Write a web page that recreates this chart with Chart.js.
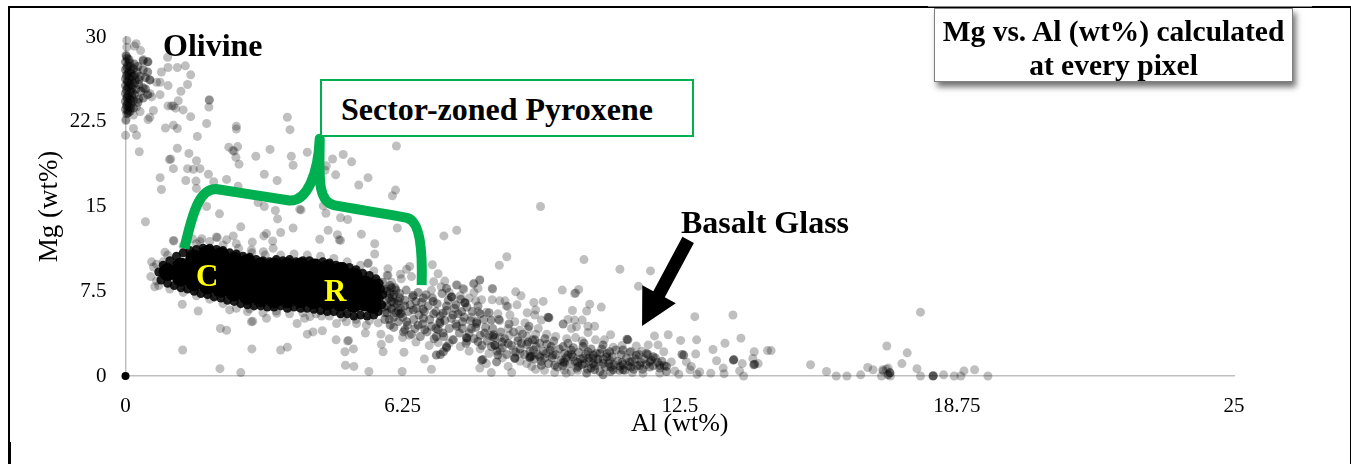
<!DOCTYPE html>
<html>
<head>
<meta charset="utf-8">
<title>Mg vs. Al</title>
<script src="https://cdn.jsdelivr.net/npm/chart.js@4"></script>
<style>
  html, body { margin: 0; padding: 0; background: #fff; overflow: hidden; }
  #wrap { position: relative; width: 1351px; height: 464px; font-family: "Liberation Serif", serif; color: #000; }
  #wrap canvas { position: absolute; left: 0; top: 0; }
  .frame { position: absolute; background: #000; }
  .note { position: absolute; font-weight: bold; white-space: nowrap; line-height: 1; }
  .box-title { position: absolute; left: 934px; top: 8px; width: 359px; height: 74px; box-sizing: border-box; background: #fff;
    border: 1.5px solid #7f7f7f; box-shadow: 3px 5px 6px rgba(0,0,0,0.55); font-weight: bold; font-size: 29.5px; line-height: 34px;
    text-align: center; padding-top: 5px; white-space: nowrap; }
  .box-green { position: absolute; left: 320px; top: 79px; width: 374px; height: 58px; box-sizing: border-box; background: #fff;
    border: 2px solid #00b050; font-weight: bold; font-size: 32px; padding: 12px 0 0 19px; line-height: 32px; white-space: nowrap; }
</style>
</head>
<body>
<div id="wrap">
  <canvas id="chart" width="1351" height="464"></canvas>
  <div class="frame" style="left:8px;top:6px;width:1343px;height:2px"></div>
  <div class="frame" style="left:928px;top:6px;width:384px;height:1px;background:#888"></div>
  <div class="frame" style="left:8px;top:6px;width:1.5px;height:458px"></div>
  <div class="frame" style="left:8px;top:442px;width:2.5px;height:22px"></div>
  <div class="frame" style="left:1349.5px;top:6px;width:1.5px;height:458px"></div>
  <div class="box-green">Sector-zoned Pyroxene</div>
  <div class="box-title">Mg vs. Al (wt%) calculated<br>at every pixel</div>
  <div class="note" style="left:163px;top:29px;font-size:32px">Olivine</div>
  <div class="note" style="left:681px;top:206px;font-size:32px">Basalt Glass</div>
  <div class="note" style="left:196px;top:260px;font-size:31px;color:#ff0">C</div>
  <div class="note" style="left:324px;top:275px;font-size:31px;color:#ff0">R</div>
</div>

<script>
// ============== data (Al wt%, Mg wt%) ==============
const xTicks = [0, 6.25, 12.5, 18.75, 25];
const yTicks = [0, 7.5, 15, 22.5, 30];
const originPoint = [[0, 0]];

// olivine cluster, hugging the Mg axis
const olivinePoints = [
  [0.02,28.3],[0.08,28.0],[0.0,27.8],[0.05,27.5],[0.11,27.4],[0.0,27.1],[0.07,26.9],[0.13,26.8],[0.02,26.6],[0.09,26.4],
  [0.0,26.3],[0.14,26.2],[0.05,26.0],[0.1,25.9],[0.0,25.7],[0.07,25.6],[0.15,25.5],[0.02,25.3],[0.11,25.2],[0.0,25.0],
  [0.06,24.9],[0.14,24.8],[0.03,24.6],[0.1,24.5],[0.0,24.3],[0.06,24.2],[0.13,24.1],[0.02,23.9],[0.08,23.8],[0.0,23.6],
  [0.05,23.5],[0.1,23.4],[0.03,23.2],[0.2,27.6],[0.26,26.9],[0.22,26.2],[0.3,25.8],[0.24,25.4],[0.2,24.9],[0.3,24.5],
  [0.4,27.9],[0.5,27.8],[0.4,27.1],[0.5,26.9],[0.4,25.5],[0.45,25.4],[0.33,26.5],[0.4,24.6],[0.55,26.2],
  [0.04,28.1],[0.1,27.7],[0.03,27.3],[0.12,27.0],[0.05,26.7],[0.15,26.5],[0.04,26.1],[0.12,25.7],[0.04,25.5],[0.16,25.1],
  [0.04,24.7],[0.12,24.4],[0.04,24.0],[0.12,23.7],[0.06,23.3],[0.2,26.6],[0.2,25.9],[0.18,24.4],[0.18,27.2],[0.28,27.4],
  [0.3,26.2],[0.35,25.2],[0.28,24.2],[0.45,26.4],[0.5,24.9],[0.18,23.7]
];

// everything that shows as a single grey dot or a light overlap
const scatterPoints = [
  [0.03,29.7],[0.03,29.1],[0.24,29.4],[0.2,29.2],[0.34,28.8],[0.01,28.4],[0.4,28.0],[0.51,27.8],[0.7,26.0],[0.78,26.0],
  [0.55,26.2],[0.59,24.7],[0.55,25.0],[0.25,23.8],[0.63,23.5],[0.18,23.1],[0.33,23.4],[0.51,22.7],[0.55,22.9],[0.01,22.6],[0.01,22.7],
  [0.18,21.9],[0.0,21.3],[0.25,21.3],[0.31,19.85],[0.95,28.2],[0.96,27.3],[1.17,27.3],[1.35,27.45],[1.47,26.65],
  [0.81,26.9],[0.96,25.7],[1.4,25.8],[1.25,25.2],[0.78,24.9],[1.19,24.35],[0.96,23.9],[1.04,23.9],[1.08,23.9],[1.13,23.7],
  [1.3,23.55],[1.47,22.95],[1.89,24.4],[1.89,24.45],[1.88,23.8],[1.83,22.35],[0.9,21.95],[1.08,22.2],[1.17,21.9],[1.62,21.2],
  [1.17,20.15],[1.43,19.7],[0.99,19.15],[1.02,19.2],[1.6,19.05],[1.08,18.35],[1.4,18.35],[1.53,18.3],[1.68,18.35],[1.87,17.85],
  [0.78,17.55],[1.36,17.3],[1.59,17.25],[0.81,16.5],[1.6,16.6],[1.99,17.2],[2.28,17.4],[2.33,20.25],[2.53,20.3],[2.45,19.9],[2.42,19.95],
  [2.49,19.35],[2.56,18.75],[2.5,22.1],[2.5,21.85],[3.65,22.9],[3.71,21.8],[2.94,19.45],[3.26,20.05],[3.74,19.45],[3.78,18.65],
  [4.1,19.8],[3.13,17.85],[3.42,17.3],[2.54,16.8],[1.83,15.0],[2.12,14.35],[0.45,13.65],[3.13,15.0],[2.99,15.35],[3.38,14.65],
  [3.43,13.9],[3.93,14.75],[3.96,14.7],[3.78,13.1],[3.5,12.7],[2.6,13.2],[2.43,12.4],[3.18,12.6],[3.12,12.4],[2.07,12.25],[1.51,12.15],[1.72,12.15],
  [1.08,12.0],[6.11,20.35],[4.91,19.6],[4.67,19.2],[5.1,18.95],[4.53,18.6],[4.5,18.2],[4.74,17.8],[5.47,17.55],[5.26,16.9],
  [6.09,16.45],[6.02,15.95],[4.46,15.05],[4.52,14.4],[4.85,14.0],[5.01,13.85],[6.13,13.1],[4.57,12.9],[4.78,12.5],[4.82,12.05],[4.85,12.0],
  [5.32,12.55],[7.18,12.4],[4.38,12.1],[7.47,12.9],[9.36,15.0],[2.28,12.05],[2.05,12.3],[1.68,11.9],[2.5,11.7],[2.86,11.85],
  [3.32,11.95],[3.33,11.3],[3.11,11.0],[2.84,11.15],[5.62,11.7],[5.62,10.8],[5.46,9.95],[5.48,10.0],[5.92,9.5],[6.34,9.45],[6.41,9.7],
  [6.92,9.85],[7.05,9.05],[8.6,10.55],[8.43,9.8],[10.34,10.3],[11.15,9.45],[11.84,9.3],[11.57,7.95],[12.84,5.25],[13.7,5.4],
  [0.59,10.1],[0.63,9.65],[0.57,8.8],[0.66,7.9],[0.89,10.95],[1.09,11.95],[0.85,10.1],
  [1.29,2.3],[2.13,0.65],[2.6,0.3],[2.85,2.4],[3.5,2.3],[3.65,2.55],[4.96,0.95],[5.15,0.85],[5.49,0.4],[6.24,0.4],[6.9,0.6],
  [6.74,1.5],[6.28,2.1],[5.81,2.15],[5.77,2.8],[5.14,2.4],[4.95,2.15],[4.75,3.2],[5.01,3.1],[5.03,3.15],[4.44,4.0],[4.23,3.9],[4.1,3.7],
  [5.41,3.8],[5.76,3.7],[3.87,4.65],[3.18,5.1],[2.84,4.8],[2.87,4.85],[2.14,4.2],[2.28,4.05],[1.64,5.75],[1.28,6.35],[2.35,5.85],[2.8,5.95],
  [3.41,5.55],[4.16,5.25],[4.04,5.1],[4.42,5.3],[4.76,4.65],[4.98,4.8],[5.21,4.65],[5.43,4.5],
  [7.48,8.05],[7.63,7.65],[7.86,8.2],[7.99,8.5],[7.95,7.75],[7.86,7.4],[8.28,7.7],[8.8,7.45],[8.92,7.1],[9.85,7.6],[10.13,7.3],[10.15,7.35],
  [10.22,7.65],[8.03,6.75],[7.9,6.65],[8.27,6.75],[8.44,6.65],[8.56,6.65],[8.59,6.2],[8.62,6.15],[8.83,6.3],[9.21,6.5],[9.42,6.6],[10.47,6.35],
  [10.73,6.1],[10.4,5.75],[10.08,5.8],[9.06,5.6],[9.25,5.85],[9.23,5.4],[8.67,5.4],[8.4,5.5],[8.14,5.65],[7.95,5.7],[9.38,4.95],
  [9.98,5.0],[10.13,4.95],[10.3,4.95],[10.43,4.4],[10.58,4.4],[10.17,4.35],[10.06,4.2],[10.94,3.65],[10.43,3.85],[8.78,4.8],[9.01,4.7],
  [9.31,4.2],[9.08,4.15],[8.89,4.05],[8.44,4.9],[8.63,4.2],[7.8,5.2],[11.93,3.55],[12.24,3.65],[12.52,3.15],[12.88,3.2],[13.52,2.9],
  [13.88,3.35],[13.25,2.35],[14.18,2.15],[14.48,2.25],[14.56,2.25],[15.45,1.0],[15.81,0.4],[16.03,0.0],[16.27,0.0],[16.58,0.1],
  [16.74,0.75],[16.86,0.55],[17.08,0.55],[17.17,2.65],[17.2,0.7],[12.86,1.95],[13.33,1.35],[13.91,1.1],[13.48,0.7],[13.5,0.2],[13.2,0.25],
  [13.85,0.45],[13.94,0.0],[14.27,1.1],[14.15,1.55],[12.95,0.35],[12.89,0.15],[12.76,0.85],[12.65,1.25],[12.73,0.55],[12.48,0.15],[12.39,0.45],
  [12.31,1.25],[11.79,2.75],[12.01,2.75],[12.14,2.15],[11.52,2.65],[17.93,5.65],[17.63,2.05],[17.51,1.1],[17.85,0.65],[17.16,0.6],[17.09,0.45],
  [17.24,0.3],[17.25,0.0],[17.05,0.0],[17.93,0.0],[18.45,0.1],[18.69,0.0],[18.84,0.0],[18.91,0.45],[19.15,0.55],[19.45,0.0],
  [5.62,8.4],[5.92,8.9],[6.0,8.3],[6.2,9.0],[6.22,8.6],[6.45,8.8],[6.95,8.35],[7.2,8.4],[7.46,8.05],[7.61,7.75],[7.85,8.15],[7.99,8.5],[8.27,7.75],
  [6.9,7.6],[7.12,7.9],[7.3,7.4],[7.55,7.1],[7.75,6.9],[6.25,3.4],[6.55,3.0],[6.85,2.7],[7.05,2.95],[6.4,3.6],[5.95,3.3],[7.3,2.9],[7.55,2.6],[7.75,2.2],
  [7.4,3.2],[7.7,3.1],[8.0,2.4],[8.2,2.0],[8.45,2.3],[8.5,1.6],[8.75,2.3],[8.9,2.0],[8.2,3.6],[8.45,3.4],[8.65,3.6],[8.85,3.4],[9.05,3.5],[9.25,3.7],[9.5,3.7],
  [9.7,3.5],[9.95,3.3],[10.15,3.4],[10.3,3.1],[10.6,3.2],[10.8,3.2],[9.05,1.1],[9.25,0.6],[9.45,0.5],[8.9,1.3],[9.9,0.5],[10.05,0.4],[7.99,0.7],[8.25,0.3],
  [8.14,1.1],[8.63,0.85],[8.71,0.3],[9.16,0.85],[9.68,0.3],[9.94,0.25],[11.43,0.3],[11.67,0.25],[12.05,0.25],[10.2,0.5],[11.0,2.55],[11.2,2.7],[11.4,2.2],[11.65,2.2]
];

// pyroxene tail, x about 5.8 to 9
const tailPoints = [
  [5.85,5.6],[5.88,6.7],[5.9,7.7],[5.95,5.0],[6.0,6.0],[6.02,7.0],[6.05,4.3],[6.08,7.8],[6.1,5.6],[6.12,6.4],[6.15,4.8],[6.18,7.3],[6.2,6.0],[6.25,5.2],
  [6.27,3.9],[6.3,6.7],[6.33,7.6],[6.36,4.5],[6.38,5.7],[6.42,6.3],[6.45,3.7],[6.47,7.0],[6.5,5.0],[6.53,4.2],[6.56,6.0],[6.6,7.4],[6.62,5.4],[6.65,3.5],
  [6.68,6.5],[6.7,4.6],[6.74,5.7],[6.78,7.2],[6.8,3.9],[6.83,6.2],[6.86,5.0],[6.9,4.4],[6.92,6.9],[6.96,3.3],[7.0,5.7],[7.03,6.4],[7.05,4.1],[7.1,5.3],
  [7.14,7.3],[7.18,3.5],[7.2,4.9],[7.24,5.8],[7.28,6.7],[7.3,4.2],[7.35,5.1],[7.38,3.2],[7.42,6.0],[7.45,4.6],[7.5,5.5],[7.53,3.8],[7.56,6.8],[7.6,4.2],
  [7.64,5.2],[7.68,2.9],[7.7,6.1],[7.75,3.8],[7.78,4.9],[7.82,5.7],[7.86,3.3],[7.9,4.3],[7.95,6.2],[8.0,3.6],[8.04,2.7],[8.08,5.0],[8.12,4.3],[8.16,3.1],
  [8.2,5.6],[8.25,2.6],[8.28,4.2],[8.33,3.4],[8.38,2.2],[8.42,5.0],[8.46,3.9],[8.5,2.5],[8.55,3.3],[8.6,1.9],[8.65,4.6],[8.7,2.7],[8.75,3.9],[8.8,2.1],
  [8.85,3.1],[8.9,2.4],[8.95,3.7],[9.0,1.9],[9.05,2.8],[9.1,4.4],[9.12,2.2],[9.18,3.2]
];

// glass band, x about 9.2 to 12.2
const glassPoints = [
  [9.22,1.5],[9.26,2.6],[9.3,1.9],[9.34,2.9],[9.38,1.3],[9.42,2.2],[9.46,1.6],[9.5,2.8],[9.54,1.1],[9.58,2.3],[9.62,1.6],[9.66,3.1],[9.7,1.9],[9.74,0.8],
  [9.78,2.4],[9.82,1.4],[9.86,0.9],[9.9,2.0],[9.94,1.6],[9.98,2.9],[10.02,1.1],[10.06,1.9],[10.1,2.5],[10.14,1.3],[10.18,0.7],[10.22,2.1],[10.26,1.5],[10.3,1.0],
  [10.34,2.9],[10.38,1.9],[10.42,0.6],[10.46,1.3],[10.5,2.4],[10.54,1.6],[10.58,0.9],[10.62,2.0],[10.66,1.2],[10.7,0.4],[10.74,2.4],[10.78,1.5],[10.82,0.8],[10.86,2.0],
  [10.9,1.1],[10.94,0.4],[10.98,1.7],[11.02,1.0],[11.06,2.3],[11.1,1.3],[11.14,0.5],[11.18,1.9],[11.22,1.0],[11.26,0.5],[11.3,1.6],[11.34,0.9],[11.38,2.1],[11.42,1.3],
  [11.46,0.6],[11.5,1.5],[11.54,0.9],[11.58,1.9],[11.62,1.2],[11.66,0.6],[11.7,1.5],[11.74,1.0],[11.78,1.9],[11.82,0.8],[11.86,1.4],[11.9,0.9],[11.95,1.6],[12.0,1.2],
  [12.05,0.7],[12.1,1.3],[12.15,0.9],[12.2,0.4]
];

// spots in the band that read darker than the rest
const bandPoints = [
  [5.82,7.6],[5.97,8.0],[5.97,7.3],[6.1,7.6],[6.19,6.9],[6.0,6.6],[5.82,6.1],[6.19,5.55],[6.22,5.5],[6.3,6.2],[6.05,5.2],[5.97,4.5],[6.3,4.1],[6.34,4.8],
  [6.49,7.15],[6.49,5.85],[6.55,6.6],[6.72,6.9],[6.72,5.1],[6.71,5.9],[6.75,4.1],[6.6,4.5],[6.94,6.6],[6.95,5.5],[7.09,4.8],[7.09,4.65],[7.0,4.2],[7.01,3.5],
  [7.16,5.55],[7.24,6.2],[7.16,3.8],[7.24,7.75],[7.36,7.0],[7.39,5.4],[7.47,4.4],[7.45,6.3],[7.58,5.7],[7.66,6.45],[7.6,4.8],[7.7,3.35],[7.65,6.5],[7.35,7.0],
  [7.92,4.8],[7.92,4.65],[8.0,5.5],[7.8,4.2],[7.69,3.4],[7.95,3.05],[8.1,3.8],[8.25,4.95],[8.28,3.5],[8.33,2.75],[8.3,3.65],[8.5,3.0],[8.33,2.7],
  [7.17,2.15],[7.24,2.5],[7.01,1.85],[7.1,1.9],[7.24,2.6],[8.03,1.4],[8.06,1.45],[8.37,1.25],[8.4,1.85],[8.63,2.9],[8.78,1.55],[8.78,1.6],[8.93,2.9],[9.08,3.0],
  [9.12,1.7],[9.15,1.75],[9.2,2.3],[9.23,3.2],[9.12,1.6],[9.34,1.7],[9.38,0.95],[9.46,3.3],[9.49,2.0],[9.53,5.2],[9.55,5.15],[9.64,1.85],[9.6,2.6],[9.68,0.95],
  [9.87,1.25],[9.87,2.6],[9.87,4.6],[9.98,1.85],[9.9,1.2],[10.09,1.7],[10.05,2.3],[10.21,0.85],[10.2,1.2],[10.32,2.6],[10.32,1.55],[10.35,1.1],[10.43,2.15],[10.45,1.6],
  [10.55,1.85],[10.55,1.1],[10.5,0.7],[10.4,0.25],[10.58,0.55],[10.65,1.5],[10.77,0.1],[10.77,2.75],[10.77,1.1],[10.7,2.0],[10.85,1.7],[10.92,1.4],[10.92,2.15],[10.95,0.8],
  [11.0,0.55],[11.15,0.85],[11.22,2.3],[11.2,1.2],[11.22,0.55],[11.31,3.25],[11.33,3.2],[11.37,1.25],[11.4,0.8],[11.52,1.85],[11.6,0.95],[11.75,2.0],[11.82,1.25],[11.9,1.7],
  [12.05,0.95],[12.2,0.85],[12.59,1.85],[12.55,1.9],[13.71,1.4],[13.72,1.45],[14.19,1.05],[14.17,1.0],[18.21,0.0],[18.22,0.02],[17.24,0.28],[17.2,0.1],
  [5.85,5.0],[5.9,5.6],[5.9,6.2],[5.95,6.9],[5.9,7.5],[6.0,5.9],[6.05,6.5],[6.05,7.2],[6.15,5.8],[6.15,6.6],[5.8,8.3],[6.0,7.8]
];

// soft scalloped edge around the black pyroxene blob
const haloPoints = [
  [0.7,9.9],[0.7,8.4],[0.75,8.0],[1.0,7.7],[1.3,7.4],[1.6,7.1],[1.9,6.8],[2.2,6.4],[2.5,6.0],[2.75,5.7],[3.1,5.6],[3.4,5.75],[3.7,5.5],[4.0,5.6],
  [4.3,5.5],[4.6,5.3],[4.9,5.2],[5.2,5.0],[5.5,4.9],[5.7,4.7],[0.95,10.7],[1.3,11.5],[1.6,11.7],[1.9,11.9],[2.2,11.6],[2.55,11.3],[2.85,10.9],[3.15,10.7],
  [3.5,10.7],[3.8,10.8],[4.1,10.7],[4.4,10.6],[4.7,10.4],[5.0,10.1],[5.3,9.8],[5.6,9.3],[5.9,8.9]
];

// edge of the blob, nearly opaque
const rimPoints = [
  [0.75,9.2],[0.85,9.8],[1.0,10.2],[1.15,10.6],[1.3,10.9],[1.45,11.1],[1.6,11.2],[1.75,11.3],[1.9,11.3],[2.05,11.2],[2.2,11.1],[2.35,10.9],[2.5,10.8],[2.65,10.6],
  [2.8,10.5],[2.95,10.3],[3.1,10.2],[3.25,10.1],[3.4,10.3],[3.55,10.2],[3.7,10.3],[3.85,10.1],[4.0,10.2],[4.15,10.2],[4.3,10.0],[4.45,10.1],[4.6,10.0],[4.75,9.8],
  [4.9,9.7],[5.05,9.6],[5.2,9.4],[5.35,9.1],[5.5,8.9],[5.65,8.6],
  [0.8,8.5],[0.95,8.2],[1.1,8.0],[1.25,7.8],[1.4,7.7],[1.55,7.5],[1.7,7.3],[1.85,7.2],[2.0,7.0],[2.15,6.9],[2.3,6.7],[2.45,6.6],[2.6,6.4],[2.75,6.3],
  [2.9,6.2],[3.05,6.2],[3.2,6.1],[3.35,6.1],[3.5,6.2],[3.65,6.0],[3.8,6.1],[3.95,6.0],[4.1,6.0],[4.25,5.9],[4.4,5.8],[4.55,5.7],[4.7,5.7],[4.85,5.5],[5.0,5.5],
  [5.15,5.3],[5.3,5.4],[5.45,5.3],[5.6,5.4],[5.7,5.7],[5.78,6.3],[5.72,6.9],[5.8,7.2],[5.75,7.7],[5.72,8.2]
];

// solid middle of the blob
const corePoints = [
  [0.95,9.2],[1.25,8.7],[1.25,9.7],[1.55,8.3],[1.55,9.3],[1.55,10.4],[1.85,8.0],[1.85,9.0],[1.85,10.0],[1.85,10.8],[2.15,7.7],[2.15,8.7],[2.15,9.7],[2.15,10.6],
  [2.45,7.4],[2.45,8.4],[2.45,9.4],[2.45,10.2],[2.75,7.1],[2.75,8.1],[2.75,9.1],[2.75,10.0],[3.05,6.9],[3.05,7.9],[3.05,8.9],[3.05,9.7],[3.35,6.8],[3.35,7.8],[3.35,8.8],[3.35,9.7],
  [3.65,6.8],[3.65,7.8],[3.65,8.8],[3.65,9.7],[3.95,6.8],[3.95,7.8],[3.95,8.8],[3.95,9.7],[4.25,6.7],[4.25,7.7],[4.25,8.7],[4.25,9.6],[4.55,6.6],[4.55,7.6],[4.55,8.6],[4.55,9.5],
  [4.85,6.5],[4.85,7.5],[4.85,8.5],[4.85,9.3],[5.15,6.4],[5.15,7.3],[5.15,8.3],[5.15,8.8],[5.4,6.5],[5.4,7.3],[5.4,8.1],[5.58,6.3],[5.58,7.1],[5.58,7.8]
];

// green brace, as bezier runs in data units: start, then [c1, c2, end] triples
const braceStart = [1.33, 11.3];
const braceRuns = [
  [[1.55,15.2],[1.72,16.55],[2.04,16.55]],
  [[2.6,16.2],[3.1,15.9],[3.66,15.55]],
  [[4.1,15.3],[4.35,18.0],[4.38,21.0]],
  [[4.38,18.0],[4.3,15.4],[4.72,15.1]],
  [[5.3,14.7],[5.8,14.4],[6.35,14.0]],
  [[6.65,13.7],[6.7,11.0],[6.68,8.05]]
];

// black arrow pointing at the glass band
const arrowTail = [12.69, 12.05];
const arrowTip = [11.65, 4.42];

const toPts = (list) => list.map(([x, y]) => ({ x, y }));

function dotSet(list, color, radius) {
  return { data: toPts(list), backgroundColor: color, borderWidth: 0, pointRadius: radius, pointHoverRadius: radius, clip: false };
}

// ============== brace and arrow, placed through the scales ==============
const overlayPlugin = {
  id: 'overlay',
  afterDatasetsDraw(chart) {
    const { ctx, scales } = chart;
    const px = (p) => [scales.x.getPixelForValue(p[0]), scales.y.getPixelForValue(p[1])];
    ctx.save();

    ctx.strokeStyle = '#00b050';
    ctx.lineWidth = 10;
    ctx.lineJoin = 'round';
    ctx.beginPath();
    ctx.moveTo(...px(braceStart));
    for (const run of braceRuns) {
      ctx.bezierCurveTo(...px(run[0]), ...px(run[1]), ...px(run[2]));
    }
    ctx.stroke();

    const [tx, ty] = px(arrowTip);
    const [sx, sy] = px(arrowTail);
    const len = Math.hypot(sx - tx, sy - ty);
    const ux = (sx - tx) / len, uy = (sy - ty) / len;
    const nx = -uy, ny = ux;
    const at = (along, side) => [tx + ux * along + nx * side, ty + uy * along + ny * side];
    const shape = [at(0, 0), at(36, 19), at(36, 6.5), at(len, 6.5), at(len, -6.5), at(36, -6.5), at(36, -19)];
    ctx.fillStyle = '#000';
    ctx.beginPath();
    shape.forEach((p, i) => (i ? ctx.lineTo(p[0], p[1]) : ctx.moveTo(p[0], p[1])));
    ctx.closePath();
    ctx.fill();

    ctx.restore();
  },
};

// ============== chart ==============
new Chart(document.getElementById('chart').getContext('2d'), {
  type: 'scatter',
  data: {
    datasets: [
      dotSet(originPoint, '#000', 4),
      dotSet(rimPoints, 'rgba(0,0,0,0.88)', 4.5),
      dotSet(corePoints, '#000', 9),
      dotSet(olivinePoints, 'rgba(0,0,0,0.42)', 4.5),
      dotSet(bandPoints, 'rgba(0,0,0,0.42)', 4.5),
      dotSet(tailPoints, 'rgba(0,0,0,0.38)', 4.5),
      dotSet(glassPoints, 'rgba(0,0,0,0.38)', 4.5),
      dotSet(haloPoints, 'rgba(0,0,0,0.25)', 4.5),
      dotSet(scatterPoints, 'rgba(0,0,0,0.25)', 4.5),
    ],
  },
  plugins: [overlayPlugin],
  options: {
    responsive: false,
    animation: false,
    devicePixelRatio: 1,
    layout: { padding: { left: 0, right: 117, top: 37, bottom: 0 } },
    plugins: { legend: { display: false }, tooltip: { enabled: false } },
    scales: {
      x: {
        type: 'linear', min: 0, max: 25,
        afterFit: (s) => { s.height = 88; },
        afterBuildTicks: (s) => { s.ticks = xTicks.map((value) => ({ value })); },
        grid: { display: false, drawTicks: false },
        border: { display: true, color: '#bfbfbf', width: 1.5 },
        ticks: { color: '#000', font: { family: 'Liberation Serif', size: 21 }, padding: 18, maxRotation: 0, autoSkip: false, callback: (v) => String(v) },
        title: { display: true, text: 'Al (wt%)', color: '#000', font: { family: 'Liberation Serif', size: 26 }, padding: { top: 0, bottom: 24 } },
      },
      y: {
        type: 'linear', min: 0, max: 30,
        afterFit: (s) => { s.width = 125.5; },
        afterBuildTicks: (s) => { s.ticks = yTicks.map((value) => ({ value })); },
        grid: { display: false, drawTicks: false },
        border: { display: true, color: '#bfbfbf', width: 1.5 },
        ticks: { color: '#000', font: { family: 'Liberation Serif', size: 21 }, padding: 19, autoSkip: false, callback: (v) => String(v) },
        title: { display: true, text: 'Mg (wt%)', color: '#000', font: { family: 'Liberation Serif', size: 27 }, padding: { top: 34, bottom: 0 } },
      },
    },
  },
});
</script>
</body>
</html>
